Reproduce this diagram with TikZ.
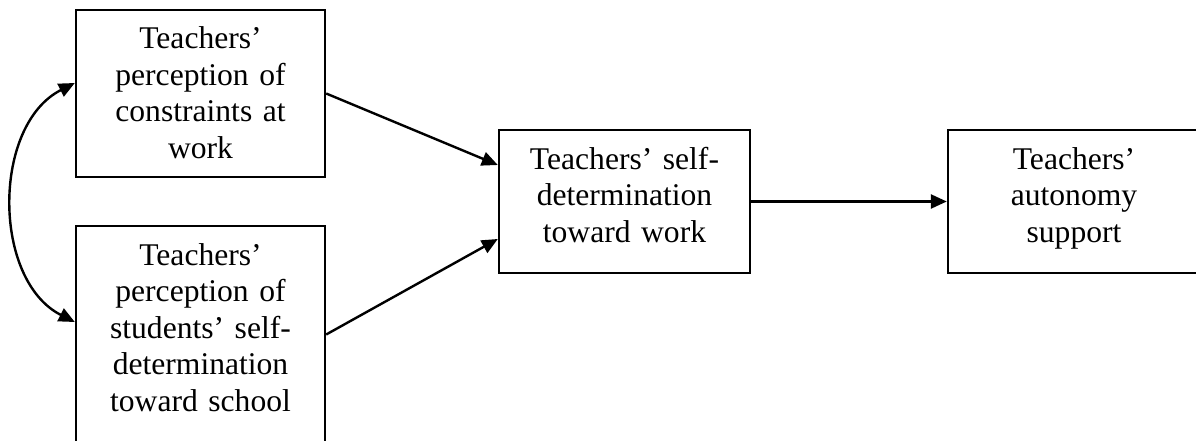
\documentclass[tikz,border=0pt]{standalone}
\usepackage{fontspec}
\setmainfont{Liberation Serif}
\usetikzlibrary{arrows.meta}
\tikzset{
  box/.style={draw, line width=2.4pt, inner sep=0pt},
  txt/.style={font=\fontsize{31.6}{36.5}\selectfont, align=center, text width=240pt, anchor=base, inner sep=0pt},
  arr/.style={line width=2.4pt, -{Triangle[length=16pt,width=14pt]}},
  darr/.style={line width=2.4pt, {Triangle[length=16pt,width=14pt]}-{Triangle[length=16pt,width=14pt]}}
}
\begin{document}
\begin{tikzpicture}[x=1pt,y=-1pt]
\useasboundingbox (0,0) rectangle (1196,441);
\clip (0,0) rectangle (1196,441);
\node[box, minimum width=249pt, minimum height=167pt] (A) at (200.5,93.5) {};
\node[box, minimum width=249pt, minimum height=217pt] (B) at (200.5,334.5) {};
\node[box, minimum width=251pt, minimum height=143pt] (C) at (624.5,201.5) {};
\node[box, minimum width=252pt, minimum height=143pt] (D) at (1074,201.5) {};
\node[txt] (At) at (200.5,49) {Teachers’\\perception of\\constraints at\\work};
\node[txt] (Bt) at (200.5,265) {Teachers’\\perception of\\students’ self-\\determination\\toward school};
\node[txt] (Ct) at (624.5,169) {Teachers’ self-\\determination\\toward work};
\node[txt] (Dt) at (1074,169) {Teachers’\\autonomy\\support};
\coordinate (a1) at ([yshift=10.5pt]A.west);
\coordinate (b1) at ([yshift=12.5pt]B.west);
\draw[darr] (a1) .. controls (-8,125) and (-8,280) .. (b1);
\draw[arr] (A.east) -- ([yshift=36.5pt]C.west);
\draw[arr] (B.east) -- ([yshift=-37.5pt]C.west);
\draw[arr] (C) -- (D);
\end{tikzpicture}
\end{document}
